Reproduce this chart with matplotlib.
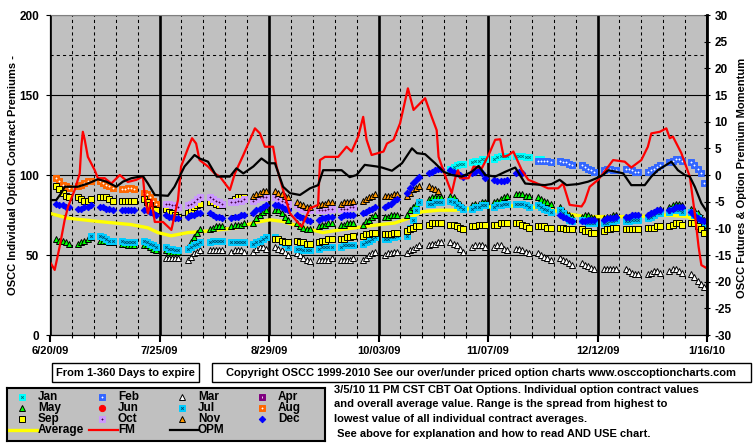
import numpy as np
import pandas as pd
import matplotlib
matplotlib.use("Agg")
import matplotlib.pyplot as plt
from matplotlib.patches import Rectangle

plt.rcParams['font.family'] = ['Liberation Sans', 'DejaVu Sans']
plt.rcParams['font.weight'] = 'bold'
plt.rcParams['axes.unicode_minus'] = False

N = None
start = pd.Timestamp('2009-06-20')
days = pd.bdate_range('2009-06-22', periods=150)   # trading days, 30 weeks x 5

xtick_labels = ['6/20/09', '7/25/09', '8/29/09', '10/03/09', '11/07/09', '12/12/09', '1/16/10']

# contract premiums (left scale), one row per week, Mon..Fri
jan = [N]*90 + [
    104, 105, 106, 107, 107,
    108, 109, 109, 110, 110,
    110, 111, 112, 112, 112,
    112, 112, 112, 111, 111,
    110, 110, 109, 109, 108,
    109, 108, 108, 107, 106,
    106, 105, 104, 103, 102,
    103, 104, 104, 103, N] + [N]*20
feb = [N]*110 + [
    109, 109, 109, 109, 108,
    109, 108, 108, 107, 106,
    106, 105, 104, 103, 102,
    103, 104, 104, 103, 103,
    104, 104, 103, 102, 102,
    102, 103, 104, 105, 106,
    108, 109, 110, 110, 109,
    108, 106, 104, 101, 95]
mar = [N]*25 + [
    48, 48, 48, 48, 48,
    47, 49, 51, 52, 53,
    53, 53, 53, 53, 53,
    52, 53, 53, 53, 52,
    52, 54, 55, 55, 54,
    55, 54, 53, 52, 50,
    51, 50, 48, 47, 46,
    47, 47, 47, 47, 48,
    47, 47, 47, 47, 48,
    47, 48, 50, 51, 52,
    50, 51, 51, 52, 52,
    51, 53, 54, 55, 56,
    56, 57, 57, 58, 58,
    58, 57, 56, 54, 52,
    55, 56, 56, 56, 55,
    55, 56, 56, 54, 53,
    54, 54, 53, 52, 51,
    51, 50, 49, 48, 47,
    48, 47, 46, 45, 44,
    45, 44, 43, 42, 41,
    41, 41, 41, 41, 41,
    41, 40, 39, 38, 38,
    38, 39, 40, 40, 39,
    40, 41, 41, 40, 39,
    38, 36, 34, 32, 30]
apr = [N]*150
may = [
    60, 59, 59, 58, 57,
    57, 58, 59, 60, 61,
    59, 59, 59, 58, 58,
    57, 57, 56, 56, 56,
    56, 56, 55, 54, 53,
    53, 52, 52, 52, 52,
    55, 58, 61, 64, 66,
    66, 67, 68, 68, 68,
    68, 69, 69, 69, 70,
    70, 73, 75, 77, 78,
    78, 78, 76, 74, 72,
    70, 68, 67, 66, 66,
    68, 69, 69, 70, 70,
    69, 69, 70, 70, 70,
    69, 71, 72, 74, 75,
    74, 74, 75, 75, 75,
    75, 78, 80, 82, 84,
    85, 86, 86, 86, 86,
    87, 86, 84, 82, 80,
    81, 82, 82, 83, 83,
    83, 84, 85, 86, 87,
    88, 88, 88, 87, 87,
    86, 85, 84, 83, 82,
    80, 78, 76, 75, 74,
    74, 75, 75, 74, 73,
    73, 74, 74, 75, 75,
    74, 74, 75, 75, 75,
    75, 76, 77, 78, 79,
    80, 81, 82, 82, 81,
    79, 78, 76, 74, 72]
jun = [N]*150
jul = [N]*9 + [
    62,
    62, 61, 60, 59, 59,
    59, 58, 58, 58, 58,
    59, 58, 57, 56, 55,
    55, 54, 54, 53, 53,
    54, 55, 56, 57, 58,
    58, 59, 59, 59, 59,
    58, 58, 58, 58, 58,
    57, 58, 59, 60, 61,
    61, 60, 58, 57, 55,
    54, 54, 53, 53, 53,
    54, 55, 55, 55, 55,
    55, 56, 56, 56, 56,
    57, 58, 59, 60, 61,
    60, 60, 61, 61, 62,
    62, 67, 72, 78, 83,
    82, 82, 83, 83, 83,
    84, 83, 81, 80, 79,
    79, 80, 80, 81, 81,
    80, 81, 81, 82, 82,
    82, 82, 82, 81, 80,
    81, 80, 79, 78, 77,
    78, 76, 74, 72, 71,
    72, 71, 70, 70, 70,
    70, 70, 71, 71, 72,
    71, 71, 72, 72, 72,
    73, 74, 75, 76, 76,
    77, 78, 78, 78, 77,
    77, 75, 73, 70, 67]
aug = [
    98, 96, 94, 93, 92,
    93, 94, 95, 96, 96,
    96, 95, 94, 93, 92,
    91, 91, 92, 92, 91,
    89, 88, 86, 84, 82] + [N]*125
sep = [
    93, 91, 89, 87, 86,
    86, 85, 84, 84, 85,
    86, 86, 86, 85, 84,
    84, 84, 84, 84, 84,
    85, 83, 81, 79, 78,
    79, 77, 76, 75, 74,
    76, 78, 80, 81, 82,
    83, 83, 82, 81, 81,
    84, 85, 86, 86, 86,
    N, N, N, N, N,
    60, 60, 59, 58, 58,
    59, 58, 58, 57, 57,
    58, 59, 59, 60, 60,
    60, 60, 61, 61, 62,
    62, 63, 63, 64, 64,
    63, 63, 63, 64, 64,
    65, 66, 67, 68, 68,
    69, 70, 70, 70, 70,
    69, 69, 68, 67, 66,
    68, 68, 69, 69, 69,
    69, 69, 70, 70, 70,
    70, 70, 69, 68, 67,
    68, 68, 68, 67, 67,
    67, 67, 66, 66, 66,
    66, 65, 65, 64, 64,
    65, 66, 66, 67, 67,
    66, 66, 66, 66, 66,
    67, 67, 67, 68, 68,
    68, 69, 70, 70, 69,
    70, 70, 68, 66, 64]
oct_ = [N]*25 + [
    82, 82, 81, 81, 80,
    81, 82, 83, 85, 86,
    86, 85, 84, 83, 82,
    83, 83, 84, 84, 85,
    84, 85, 86, 86, 86,
    86, 85, 84, 83, 82,
    81, 80, 79, 78, 78,
    78, 78, 78, 79, 79,
    79, 79, 79, 80, 80] + [N]*80
nov = [N]*45 + [
    87, 88, 89, 90, 90,
    90, 89, 88, 87, 86,
    83, 82, 81, 80, 80,
    81, 82, 82, 83, 83,
    82, 83, 83, 83, 84,
    84, 85, 86, 87, 88,
    87, 87, 87, 88, 88,
    87, 89, 91, 92, 93,
    93, 92, 91, 90, N] + [N]*60
dec = [
    82, 81, 81, 80, 80,
    79, 79, 80, 80, 81,
    80, 80, 79, 79, 78,
    78, 78, 78, 78, 78,
    78, 78, 77, 76, 75,
    75, 74, 74, 73, 73,
    74, 75, 75, 76, 76,
    76, 75, 74, 74, 73,
    73, 74, 74, 75, 75,
    76, 78, 79, 80, 81,
    81, 81, 80, 79, 78,
    75, 74, 73, 72, 71,
    72, 73, 73, 74, 74,
    74, 75, 75, 75, 75,
    76, 77, 78, 79, 80,
    80, 81, 82, 84, 85,
    89, 92, 95, 97, 99,
    101, 102, 103, 104, 104,
    103, 102, 101, 100, 99,
    101, 102, 103, 101, 98,
    97, 96, 96, 96, 97,
    101, 102, 101, N, N,
    N, N, N, N, N,
    75, 74, 73, 72, 71,
    71, 71, 72, 72, 72,
    72, 73, 73, 73, 74,
    74, 74, 75, 75, 75,
    75, 76, 77, 78, 78,
    78, 79, 80, 80, 80,
    77, 75, 73, 72, 71]

# lines: (days after 6/20/09, value)
average = [(0, 76), (5.8, 73), (15.3, 71), (25.9, 69), (31.3, 67), (34.5, 64), (38.7, 62),
           (44.1, 64), (50.5, 65), (59.7, 67), (64.9, 70), (70.3, 72), (74.4, 71), (83.1, 66),
           (87.2, 64), (93.6, 66), (101.3, 68), (105.4, 69), (110.2, 70), (114.7, 73),
           (118.8, 77), (124.3, 78), (129.4, 78), (134.8, 79), (145.4, 81), (153, 80),
           (159.1, 79), (164.5, 76), (170.9, 74), (176.4, 74), (186.9, 74), (197.4, 75),
           (203.8, 74), (210, 67)]
fm = [(0, -16.3), (1.5, -17.8), (3.1, -13.4), (4.7, -8.4), (5.8, -5.9), (7.9, -2.8), (9.5, 0.3),
      (10, 5.3), (10.5, 8.1), (11.1, 6.6), (12.1, 3.4), (14.3, 0.9), (15.3, -0.6), (17.5, -0.6),
      (19.6, -1.6), (22.3, 0), (24.9, -1.3), (27.6, -0.9), (29.7, -0.3), (30.3, -4.1),
      (31.3, -7.2), (32.4, -4.7), (33.5, -8.8), (36.1, -8.8), (38.8, -10.3), (40.9, -4.7),
      (41.9, 1.6), (44.1, 5.0), (45.4, 6.9), (46.7, 5.9), (47.8, 2.8), (50.5, 1.6), (52.6, 0.3),
      (54.3, -0.3), (57.5, -2.8), (59.1, 0.3), (61.8, 3.75), (65.5, 8.75), (67.1, 7.8),
      (68.7, 5.3), (71.3, 5.3), (72.4, 1.6), (74.5, -2.8), (76.7, -7.2), (80.4, -9.7),
      (83.1, -6.25), (85.7, -5.6), (86.3, 2.8), (87.9, 3.4), (92.1, 3.4), (94.8, 5.3),
      (96.4, 4.4), (98.5, 7.2), (100.1, 10.9), (101.2, 6.6), (102.8, 3.75), (106.6, 4.4),
      (107.7, 5.9), (109.8, 6.6), (111.9, 9.7), (114.4, 16.25), (116.2, 12.2), (119.9, 14.4),
      (122.0, 10.9), (123.6, 8.4), (124.2, 3.4), (126.8, -0.9), (128.4, -3.4), (129.5, -0.6),
      (130.4, 0.9), (131.1, -0.6), (133.8, -0.6), (135.4, 1.6), (138.0, 1.25), (140.2, 3.75),
      (142.3, 6.6), (143.9, 6.7), (145.0, 3.4), (146.6, 3.75), (148.1, 4.4), (150.8, 0.9),
      (152.9, -0.9), (155.0, -1.4), (159.2, -2.5), (162.4, -2.5), (164.0, -1.6), (166.1, -5.6),
      (169.9, -5.9), (170.9, -5.0), (172.5, -2.2), (175.2, -0.9), (176.8, 0.3), (180.0, 2.8),
      (183.7, 2.5), (185.8, 1.4), (189.0, 2.8), (191.1, 5.3), (192.2, 7.8), (194.9, 8.1),
      (197.0, 8.75), (198.1, 6.9), (199.1, 7.2), (201.8, 4.1), (204.5, -0.3), (206.1, -7.2),
      (207.3, -13.4), (208.2, -16.9), (210, -17.5)]
opm = [(0, -4.7), (2, -4.7), (3.6, -3.4), (4.7, -2.2), (8.9, -2.2), (12.1, -1.6), (15.3, -0.8),
       (18, -1.25), (21.2, -2.2), (23.3, -1.25), (26, -0.6), (29.7, -0.2), (31.3, -1.6),
       (33.5, -3.75), (37.7, -3.9), (39.8, -2.2), (43, 1.6), (46.2, 3.75), (47.8, 3.1),
       (50.5, 2.5), (53.3, -0.3), (57.5, -0.3), (59.6, 1.25), (61.8, 0.3), (65, 1.6),
       (67.6, 3.1), (69.7, 2.2), (71.9, 2.2), (74.5, -2.2), (76.7, -3.4), (79.9, -3.75),
       (83.1, -2.5), (85.7, -1.9), (87.3, 0.9), (93.2, 0.9), (95.8, -0.4), (98, 0), (100.6, 1.9),
       (104.4, 1.6), (106.1, 1.4), (109.3, 0.8), (112.5, 2.2), (115.7, 5.0), (117.3, 4.1),
       (119.9, 3.9), (123.1, 2.2), (125.8, 0.6), (128.4, 0), (131.6, -0.3), (134.8, 0.6),
       (137, 1.7), (139.1, 0), (142.3, -0.3), (145.5, 0.6), (148.7, 1.4), (151.9, -1.6),
       (158.1, -1.9), (160.3, -1.7), (162.9, -0.9), (165.1, -1.9), (168.8, -1.7), (172, -1.25),
       (174.7, -0.6), (176.8, 0), (178.4, 0.9), (181.1, 0.6), (183.2, 0.3), (185.8, -1.9),
       (190.1, -1.9), (192.2, -0.3), (194.3, 0.9), (197, 1.9), (198.6, 2.5), (200.7, 0.9),
       (202.9, 0), (204.5, -0.3), (206.1, -2.2), (208.2, -5.3), (210, -6.9)]

months = ['Jan', 'Feb', 'Mar', 'Apr', 'May', 'Jun', 'Jul', 'Aug', 'Sep', 'Oct', 'Nov', 'Dec']
month_data = [jan, feb, mar, apr, may, jun, jul, aug, sep, oct_, nov, dec]

# marker styles: (marker, face, edge, size, inner marker, inner colour)
styles = {
    'Jan': ('s', '#00FFFF', '#00FFFF', 4.8, 'x', '#007070'),
    'Feb': ('s', '#3366FF', '#3366FF', 4.8, '+', 'white'),
    'Mar': ('^', 'white', 'black', 5.0, None, None),
    'Apr': ('s', '#800080', '#800080', 4.8, '|', 'white'),
    'May': ('^', '#00FF00', 'black', 5.0, None, None),
    'Jun': ('o', '#FF0000', '#FF0000', 4.5, None, None),
    'Jul': ('s', '#00CCFF', '#00CCFF', 4.8, 'x', '#004466'),
    'Aug': ('s', '#FF6600', '#FF6600', 4.8, '+', 'white'),
    'Sep': ('s', '#FFFF00', 'black', 4.6, None, None),
    'Oct': ('s', '#CC99FF', '#CC99FF', 4.8, '+', '#400040'),
    'Nov': ('^', '#FF9900', 'black', 5.0, None, None),
    'Dec': ('D', '#0000FF', '#0000FF', 3.3, None, None),
}


def draw_marker(a, x, y, name):
    m, fc, ec, ms, im, ic = styles[name]
    a.plot(x, y, ls='none', marker=m, ms=ms, mfc=fc, mec=ec, mew=0.7, zorder=3)
    if im:
        a.plot(x, y, ls='none', marker=im, ms=1.8, color=ic, mew=0.6, zorder=3)


W, H = 755, 446
fig = plt.figure(figsize=(W / 100, H / 100), dpi=100)


def fx(x):
    return x / W


def fy(y):
    return 1 - y / H


ax = fig.add_axes([fx(50), fy(335), fx(707) - fx(50), fy(15) - fy(335)])
ax.set_facecolor('#C0C0C0')
ax.set_xlim(start, start + pd.Timedelta(days=210))
ax.set_ylim(0, 200)
ax.set_xticks([start + pd.Timedelta(days=35 * k) for k in range(7)])
ax.set_xticklabels(xtick_labels)
ax.set_xticks([start + pd.Timedelta(days=7 * k) for k in range(31)], minor=True)
ax.set_yticks([0, 50, 100, 150, 200])
ax.set_yticks([25, 75, 125, 175], minor=True)
ax.xaxis.grid(True, which='major', color='black', lw=1.9)
ax.xaxis.grid(True, which='minor', color='black', lw=0.75, ls=(0, (3, 3)))
ax.yaxis.grid(True, which='major', color='black', lw=0.8)
ax.yaxis.grid(True, which='minor', color='black', lw=0.75, ls=(0, (3, 3)))
ax.tick_params(axis='x', which='major', length=5, width=1.5, pad=3, labelsize=8)
ax.tick_params(axis='x', which='minor', length=2, width=0.8)
ax.tick_params(axis='y', which='major', length=3, pad=5, labelsize=8.5)
ax.tick_params(axis='y', which='minor', length=0)
ax.spines['top'].set_color('#808080')
ax.spines['right'].set_visible(False)

avg_x = [start + pd.Timedelta(days=d) for d, v in average]
ax.plot(avg_x, [v for d, v in average], color='#FFFF00', lw=2.4, zorder=2.5)

for name, vals in zip(months, month_data):
    draw_marker(ax, days, np.array(vals, dtype=float), name)

ax2 = ax.twinx()
ax2.set_ylim(-30, 30)
ax2.set_yticks(range(-30, 31, 5))
ax2.tick_params(axis='y', direction='inout', length=5, pad=3, labelsize=8.5)
ax2.spines['right'].set_linewidth(2)
ax2.spines['top'].set_visible(False)
ax2.plot([start + pd.Timedelta(days=d) for d, v in fm], [v for d, v in fm], color='#FF0000', lw=1.6)
ax2.plot([start + pd.Timedelta(days=d) for d, v in opm], [v for d, v in opm], color='black', lw=1.6)

fig.text(fx(13), fy(175), 'OSCC Individual Option Contract Premiums -', rotation=90,
         ha='center', va='center', fontsize=8)
fig.text(fx(742), fy(178), 'OSCC Futures & Option Premium Momentum', rotation=90,
         ha='center', va='center', fontsize=8)

# text boxes
for x0, x1, txt in [(52, 199, 'From 1-360 Days to expire'),
                    (212, 751, 'Copyright OSCC 1999-2010 See our over/under priced option charts www.osccoptioncharts.com')]:
    fig.patches.append(Rectangle((fx(x0), fy(382)), fx(x1) - fx(x0), fy(363) - fy(382),
                                 transform=fig.transFigure, facecolor='white', edgecolor='black', lw=1))
    fig.text(fx((x0 + x1) / 2), fy(372.5), txt, ha='center', va='center', fontsize=8)

# legend panel
lax = fig.add_axes([fx(7), fy(441), fx(325) - fx(7), fy(388) - fy(441)])
lax.set_facecolor('#C0C0C0')
lax.set_xlim(7, 325)
lax.set_ylim(441, 388)
lax.set_xticks([])
lax.set_yticks([])
for s in lax.spines.values():
    s.set_linewidth(1.5)
row_y = [397, 408, 419, 430]
for i, name in enumerate(months):
    r, c = divmod(i, 4)
    draw_marker(lax, [22 + 80 * c], [row_y[r]], name)
    lax.text(38 + 80 * c, row_y[r], name, va='center', ha='left', fontsize=8.5)
for c, (name, col, lw) in enumerate([('Average', '#FFFF00', 2.4), ('FM', '#FF0000', 1.6), ('OPM', 'black', 1.6)]):
    lax.plot([8 + 81 * c, 37 + 81 * c], [row_y[3], row_y[3]], color=col, lw=lw)
    lax.text(38 + 80 * c, row_y[3], name, va='center', ha='left', fontsize=8.5)

notes = ['3/5/10 11 PM CST CBT Oat Options. Individual option contract values',
         'and overall average value. Range is the spread from highest to',
         'lowest value of all individual contract averages.',
         ' See above for explanation and how to read AND USE chart.']
for y, line in zip([390, 404, 419, 434], notes):
    fig.text(fx(334), fy(y), line, ha='left', va='center', fontsize=8)

fig.savefig('out.png', dpi=100, facecolor='white')
